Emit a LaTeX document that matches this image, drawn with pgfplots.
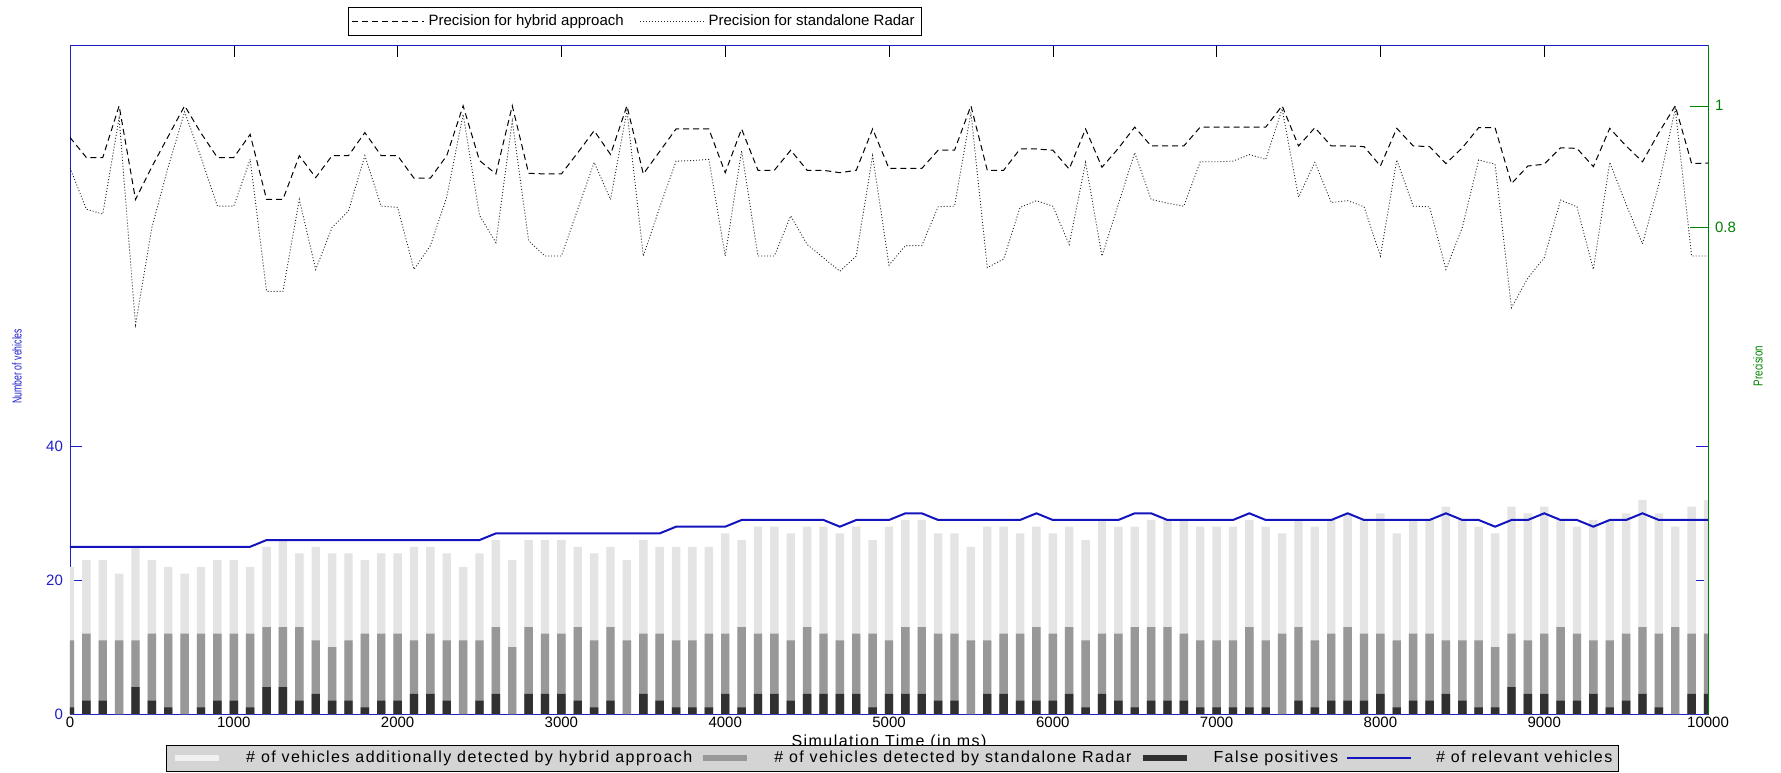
\documentclass[border=0pt]{standalone}
\usepackage{graphicx}
\usepackage{pgfplots}
\pgfplotsset{compat=1.18}
\usepackage{pgfplotstable}
\usepackage{fontspec}
\setmainfont{Liberation Sans}
\setsansfont{Liberation Sans}
\newfontfamily\legfont[LetterSpace=9]{Liberation Sans}
\definecolor{lightbar}{RGB}{228,228,228}
\definecolor{midbar}{RGB}{152,152,152}
\definecolor{darkbar}{RGB}{48,48,48}
\definecolor{relblue}{RGB}{20,20,190}
\definecolor{axblue}{RGB}{30,30,200}
\definecolor{axgreen}{RGB}{0,128,0}
\definecolor{legbg}{RGB}{212,212,212}
\definecolor{leglight}{RGB}{240,240,240}

\pgfplotstableread{
t light mid dark rel hyb rad
0 22 11 1 25 0.948 0.898
100 23 12 2 25 0.915 0.83
200 23 11 2 25 0.915 0.822
300 21 11 0 25 1.0 0.98
400 25 11 4 25 0.846 0.64
500 23 12 2 25 0.90 0.80
600 22 12 1 25 0.95 0.90
700 21 12 0 25 1.0 0.99
800 22 12 1 25 0.955 0.915
900 23 12 2 25 0.915 0.835
1000 23 12 2 25 0.915 0.835
1100 22 12 1 25 0.953 0.912
1200 25 13 4 26 0.846 0.695
1300 26 13 4 26 0.846 0.695
1400 24 13 2 26 0.918 0.846
1500 25 11 3 26 0.882 0.731
1600 24 10 2 26 0.918 0.80
1700 24 11 2 26 0.918 0.827
1800 23 12 1 26 0.956 0.918
1900 24 12 2 26 0.918 0.835
2000 24 12 2 26 0.918 0.833
2100 25 11 3 26 0.881 0.731
2200 25 12 3 26 0.881 0.77
2300 24 11 2 26 0.918 0.85
2400 22 11 0 26 1.0 0.986
2500 24 11 2 26 0.91 0.82
2600 26 13 3 27 0.888 0.775
2700 23 10 0 27 1.0 0.975
2800 26 13 3 27 0.889 0.778
2900 26 12 3 27 0.888 0.753
3000 26 12 3 27 0.888 0.753
3100 25 13 2 27 0.923 0.83
3200 24 11 1 27 0.959 0.907
3300 25 13 2 27 0.92 0.846
3400 23 11 0 27 1.0 0.992
3500 26 12 3 27 0.888 0.753
3600 25 12 2 27 0.925 0.833
3700 25 11 1 28 0.962 0.909
3800 25 11 1 28 0.962 0.91
3900 25 12 1 28 0.962 0.912
4000 27 12 3 28 0.89 0.753
4100 26 13 1 29 0.962 0.926
4200 28 12 3 29 0.894 0.753
4300 28 12 3 29 0.894 0.753
4400 27 11 2 29 0.927 0.819
4500 28 13 3 29 0.894 0.772
4600 28 12 3 29 0.894 0.75
4700 27 11 3 28 0.89 0.728
4800 28 12 3 29 0.894 0.753
4900 26 12 1 29 0.962 0.918
5000 28 11 3 29 0.897 0.738
5100 29 13 3 30 0.897 0.77
5200 29 13 3 30 0.897 0.77
5300 27 12 2 29 0.927 0.834
5400 27 12 2 29 0.927 0.835
5500 25 11 0 29 1.0 0.989
5600 28 11 3 29 0.894 0.734
5700 28 12 3 29 0.894 0.748
5800 27 12 2 29 0.929 0.833
5900 28 13 2 30 0.929 0.844
6000 27 12 2 29 0.927 0.835
6100 28 13 3 29 0.896 0.772
6200 26 11 1 29 0.962 0.907
6300 29 12 3 29 0.899 0.753
6400 28 12 2 29 0.93 0.838
6500 28 13 1 30 0.965 0.923
6600 29 13 2 30 0.934 0.846
6700 29 13 2 29 0.934 0.84
6800 29 12 2 29 0.934 0.835
6900 28 11 1 29 0.965 0.908
7000 28 11 1 29 0.965 0.908
7100 28 11 1 29 0.965 0.909
7200 29 13 1 30 0.965 0.92
7300 28 11 1 29 0.965 0.912
7400 27 12 0 29 1.0 0.995
7500 29 13 2 29 0.934 0.85
7600 28 11 1 29 0.964 0.907
7700 29 12 2 29 0.934 0.841
7800 30 13 2 30 0.934 0.844
7900 29 12 2 29 0.933 0.834
8000 30 12 3 29 0.901 0.753
8100 27 11 1 29 0.963 0.911
8200 29 12 2 29 0.934 0.835
8300 29 12 2 29 0.933 0.834
8400 31 11 3 30 0.905 0.731
8500 29 11 2 29 0.931 0.80
8600 28 11 1 29 0.964 0.911
8700 27 10 1 28 0.964 0.904
8800 31 12 4 29 0.872 0.668
8900 30 11 3 29 0.901 0.717
9000 31 12 3 30 0.904 0.75
9100 29 13 2 29 0.931 0.845
9200 28 12 2 29 0.93 0.834
9300 29 11 3 28 0.90 0.731
9400 29 11 1 29 0.963 0.907
9500 30 12 2 29 0.934 0.838
9600 32 13 3 30 0.908 0.773
9700 30 12 1 29 0.956 0.871
9800 28 13 0 29 1.0 0.995
9900 31 12 3 29 0.905 0.753
10000 32 12 3 29 0.906 0.753
}\data

\begin{document}
\begin{tikzpicture}[font=\fontsize{7.5}{9}\selectfont]
\useasboundingbox (-35pt,-29pt) rectangle (855.5pt,357pt);
\begin{axis}[
  at={(0pt,0pt)}, anchor=south west,
  width=819pt, height=334.5pt, scale only axis,
  xmin=0, xmax=10000, ymin=0, ymax=100,
  xtick={0,1000,...,10000},
  ytick={0,20,40},
  tick align=inside,
  major tick length=6pt,
  scaled x ticks=false,
  /pgf/number format/assume math mode=true,
  xticklabel style={/pgf/number format/1000 sep={}, inner sep=1.5pt},
  y axis line style={axblue},
  ytick style={axblue},
  yticklabel style={axblue},
  xtick style={black},
  every axis y label/.style={at={(axis description cs:-0.0324,0.52)}, anchor=center, rotate=90, axblue},
  ylabel={\fontsize{6.5}{7}\selectfont\scalebox{0.67}[1]{Number of vehicles}},
  every axis x label/.style={at={(axis description cs:0.5,-0.043)}, anchor=center, font=\legfont\fontsize{8}{9.6}\selectfont},
  xlabel={Simulation Time (in ms)},
  legend style={at={(axis description cs:0.502,-0.0665)}, anchor=center, fill=legbg, draw=black,
    legend columns=4, font=\legfont\fontsize{8}{9.6}\selectfont,
    inner xsep=3pt, inner ysep=1.5pt,
    nodes={inner xsep=0pt, inner ysep=1.5pt},
    /tikz/every odd column/.append style={column sep=12pt},
    /tikz/every even column/.append style={column sep=4pt}},
  legend cell align=left,
]
\addplot[ybar, bar width=4.2pt, bar shift=0pt, fill=lightbar, draw=none,
  legend image code/.code={\draw[leglight, line width=3pt] (0pt,0pt) -- (22pt,0pt);}]
  table[x=t, y=light] {\data};
\addlegendentry{\# of vehicles additionally detected by hybrid approach}
\addplot[ybar, bar width=4.2pt, bar shift=0pt, fill=midbar, draw=none,
  legend image code/.code={\draw[midbar, line width=3pt] (0pt,0pt) -- (22pt,0pt);}]
  table[x=t, y=mid] {\data};
\addlegendentry{\# of vehicles detected by standalone Radar}
\addplot[ybar, bar width=4.2pt, bar shift=0pt, fill=darkbar, draw=none,
  legend image code/.code={\draw[darkbar, line width=3pt] (0pt,0pt) -- (22pt,0pt);}]
  table[x=t, y=dark] {\data};
\addlegendentry{False positives}
\addplot[relblue, line width=1pt, mark=none,
  legend image code/.code={\draw[relblue, line width=1pt] (0pt,0pt) -- (32pt,0pt);}]
  table[x=t, y=rel] {\data};
\addlegendentry{\# of relevant vehicles}
\end{axis}
\begin{axis}[
  at={(0pt,0pt)}, anchor=south west,
  width=819pt, height=334.5pt, scale only axis,
  xmin=0, xmax=10000, ymin=0, ymax=1.1,
  axis y line*=right, axis x line=none,
  ytick={0.8,1},
  tick align=inside,
  major tick length=9pt,
  /pgf/number format/assume math mode=true,
  y axis line style={axgreen},
  ytick style={axgreen},
  yticklabel style={axgreen},
  every axis y label/.style={at={(axis description cs:1.0305,0.52)}, anchor=center, rotate=90, axgreen},
  ylabel={\fontsize{6.5}{7}\selectfont\scalebox{0.75}[1]{Precision}},
  legend style={at={(axis description cs:0.345,1.035)}, anchor=center, fill=white, draw=black,
    legend columns=2, font=\fontsize{7.5}{9}\selectfont, inner sep=1.5pt,
    /tikz/every even column/.append style={column sep=6pt}},
]
\addplot[black, dash pattern=on 3pt off 2pt, line width=0.5pt, mark=none,
  legend image code/.code={\draw[black, dash pattern=on 3pt off 2pt, line width=0.5pt] (0pt,0pt) -- (36pt,0pt);}]
  table[x=t, y=hyb] {\data};
\addlegendentry{Precision for hybrid approach}
\addplot[black!85, dash pattern=on 0.5pt off 1pt, line width=0.45pt, mark=none,
  legend image code/.code={\draw[black!85, dash pattern=on 0.5pt off 1pt, line width=0.45pt] (0pt,0pt) -- (32pt,0pt);}]
  table[x=t, y=rad] {\data};
\addlegendentry{Precision for standalone Radar}
\end{axis}
\end{tikzpicture}
\end{document}
